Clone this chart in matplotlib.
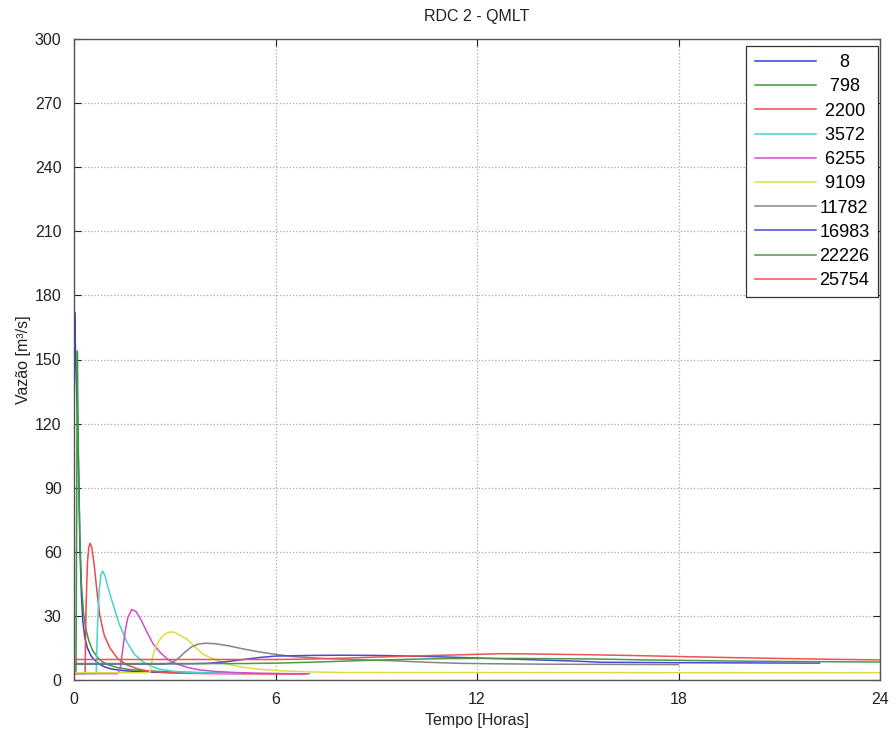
import matplotlib
matplotlib.use("Agg")
import matplotlib.pyplot as plt

plt.rcParams['font.family'] = ['Liberation Sans', 'DejaVu Sans']

labels = ["8", "798", "2200", "3572", "6255", "9109", "11782", "16983", "22226", "25754"]
colors = ["#3c3cdc", "#3d993d", "#ee4a4a", "#46d2d2", "#cf4ccf", "#dcdc46",
          "#858585", "#4a4ad6", "#4a9a4a", "#ee5252"]

t_8 = [0, 0.02, 0.05, 0.1, 0.14, 0.18, 0.22, 0.26, 0.32, 0.4, 0.5, 0.6, 0.75, 0.9, 1.1, 1.4, 1.8, 2.3, 3.0, 4.0, 5.0]
q_8 = [120, 172, 150, 125, 96, 60, 40, 28, 20, 15, 11.5, 9.5, 7.5, 6.2, 5.2, 4.5, 4.0, 3.7, 3.4, 3.2, 3.1]

t_798 = [0, 0.06, 0.1, 0.12, 0.14, 0.17, 0.22, 0.28, 0.35, 0.45, 0.55, 0.7, 0.85, 1.0, 1.3, 1.7, 2.2, 3.0, 4.0]
q_798 = [3, 3, 154, 120, 96, 70, 45, 32, 24, 18, 14, 10.5, 8.5, 7.2, 5.8, 4.8, 4.2, 3.7, 3.4]

t_2200 = [0, 0.33, 0.36, 0.40, 0.44, 0.48, 0.53, 0.6, 0.68, 0.77, 0.9, 1.07, 1.3, 1.58, 1.9, 2.17, 2.6, 3.2, 4.0, 5.0, 6.0, 6.9]
q_2200 = [3, 3, 35, 55, 62, 64, 62, 54, 42, 30, 21, 15, 10, 7, 5.2, 4.3, 3.6, 3.2, 3.0, 2.9, 2.8, 2.8]

t_3572 = [0, 0.66, 0.7, 0.75, 0.8, 0.85, 0.92, 1.0, 1.17, 1.35, 1.57, 1.8, 2.05, 2.3, 2.56, 3.0, 3.5, 4.2, 5.0]
q_3572 = [3, 3, 25, 42, 49, 51, 49, 44, 35, 26, 18, 12, 8.5, 6.5, 5.0, 4.0, 3.5, 3.2, 3.0]

t_6255 = [0, 1.3, 1.37, 1.45, 1.52, 1.6, 1.72, 1.85, 2.0, 2.17, 2.35, 2.56, 2.8, 3.06, 3.4, 3.75, 4.2, 4.8, 5.5, 6.2, 7.0]
q_6255 = [3, 3, 5, 14, 22.5, 29, 33, 32, 28, 22.5, 17, 13, 9.5, 7.5, 5.8, 4.7, 4.0, 3.5, 3.2, 3.0, 2.9]

t_9109 = [0, 2.2, 2.26, 2.3, 2.36, 2.45, 2.56, 2.7, 2.86, 3.0, 3.2, 3.35, 3.6, 3.85, 4.2, 4.55, 5.0, 5.54, 6.2, 7.0, 8.0, 24]
q_9109 = [3.4, 3.4, 3.6, 7, 12, 16, 19, 21.5, 22.5, 22.3, 20.5, 19.3, 15.5, 12, 9.5, 7.5, 6, 5, 4.3, 3.8, 3.5, 3.4]

t_11782 = [0, 2.7, 2.9, 3.1, 3.3, 3.5, 3.7, 3.9, 4.2, 4.6, 5.05, 5.5, 6.0, 6.5, 7.5, 8.5, 9.5, 10.5, 11.5, 12.5, 14, 16, 18]
q_11782 = [7.5, 7.5, 8, 10, 13, 15.5, 16.8, 17.2, 17, 16, 14.5, 13.2, 12, 11, 10, 9.5, 9.0, 8.3, 7.8, 7.6, 7.4, 7.3, 7.2]

t_16983 = [0, 3.5, 4.0, 4.5, 5.0, 5.5, 6.0, 7, 8, 9, 10, 11, 12, 13, 14, 15, 15.7, 17, 18, 20, 22.2]
q_16983 = [7.6, 7.6, 7.8, 8.5, 9.5, 10.5, 11.2, 11.5, 11.6, 11.5, 11.2, 10.8, 10.3, 9.8, 9.3, 8.8, 8.3, 8.2, 8.1, 8.0, 7.9]

t_22226 = [0, 5, 6, 7, 8, 9, 10, 11, 12, 13, 14, 15, 16, 17, 18, 19, 20, 22, 24]
q_22226 = [7.7, 7.7, 7.9, 8.3, 8.8, 9.3, 9.7, 10.0, 10.1, 10.1, 10.0, 9.9, 9.7, 9.4, 9.2, 9.0, 8.8, 8.6, 8.4]

t_25754 = [0, 6, 7, 8, 9, 10, 11, 12, 12.7, 13.5, 15, 16.5, 18, 19.5, 21, 22.5, 24]
q_25754 = [9.6, 9.6, 9.8, 10.2, 10.7, 11.2, 11.6, 12.0, 12.3, 12.2, 11.9, 11.5, 11.0, 10.5, 10.1, 9.7, 9.4]

times = [t_8, t_798, t_2200, t_3572, t_6255, t_9109, t_11782, t_16983, t_22226, t_25754]
flows = [q_8, q_798, q_2200, q_3572, q_6255, q_9109, q_11782, q_16983, q_22226, q_25754]

x_ticks = [0, 6, 12, 18, 24]
y_ticks = [0, 30, 60, 90, 120, 150, 180, 210, 240, 270, 300]

fig = plt.figure(figsize=(8.96, 7.33), dpi=100)
ax = fig.add_axes([74/896, 1 - 680/733, (880 - 74)/896, (680 - 39)/733])

# pad labels so they appear centred in the legend column
def pad(s):
    return " " * (5 - len(s)) + s

for t, q, lab, c in zip(times, flows, labels, colors):
    ax.plot(t, q, color=c, lw=1.1, label=pad(lab))

ax.set_xlim(0, 24)
ax.set_ylim(0, 300)
ax.set_xticks(x_ticks)
ax.set_yticks(y_ticks)
ax.tick_params(direction='in', top=True, right=True, length=5, labelsize=11.5,
               colors='#222222')
ax.tick_params(axis='x', pad=9)
ax.tick_params(axis='y', pad=9)
ax.grid(True, linestyle=':', color='#a8a8a8', linewidth=0.9)
for sp in ax.spines.values():
    sp.set_color('#555555')
    sp.set_linewidth(1.0)

ax.set_title("RDC 2 - QMLT", fontsize=11.5, pad=13, color='#222222')
ax.set_xlabel("Tempo [Horas]", fontsize=11.5, labelpad=4, color='#222222')
ax.set_ylabel("Vazão [m³/s]", fontsize=11.5, labelpad=3, color='#222222')

leg = ax.legend(loc='upper right', bbox_to_anchor=(0.9975, 0.989),
                fontsize=13, handlelength=3.4, labelspacing=0.40,
                fancybox=False, framealpha=1, edgecolor='#333333',
                borderpad=0.45, handletextpad=0.2, borderaxespad=0.0)
leg.get_frame().set_linewidth(0.9)

fig.savefig("out.png", dpi=100)
